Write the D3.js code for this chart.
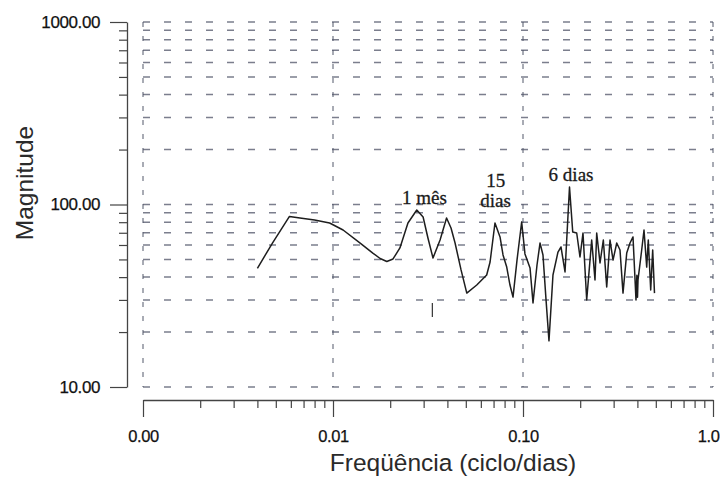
<!DOCTYPE html>
<html>
<head>
<meta charset="utf-8">
<script src="https://cdn.jsdelivr.net/npm/d3@7"></script>
<style>
  html, body { margin: 0; padding: 0; background: #fff; }
  svg { display: block; }
</style>
</head>
<body>
<svg id="chart" width="720" height="482"></svg>
<script>
// Amplitude spectrum of the daily series (log–log)
const freq = [0.0040, 0.0048, 0.0059, 0.0067, 0.0080, 0.0096, 0.0113, 0.0139, 0.0162, 0.0177,
  0.0192, 0.0207, 0.0225, 0.0248, 0.0276, 0.0298, 0.0316, 0.0336, 0.0366, 0.0396,
  0.0418, 0.0439, 0.0472, 0.0506, 0.0571, 0.0644, 0.0671, 0.0712, 0.0757, 0.0785,
  0.0821, 0.0854, 0.0886, 0.0930, 0.0984, 0.1024, 0.1089, 0.1129, 0.1185, 0.1229,
  0.1274, 0.1322, 0.1370, 0.1438, 0.1528, 0.1585, 0.1664, 0.1757, 0.1827, 0.1917,
  0.1995, 0.2069, 0.2164, 0.2299, 0.2393, 0.2443, 0.2543, 0.2647, 0.2758, 0.2871,
  0.2977, 0.3114, 0.3240, 0.3360, 0.3515, 0.3658, 0.3793, 0.3933, 0.3975, 0.4005,
  0.4030, 0.4214, 0.4334, 0.4478, 0.4565, 0.4700, 0.4815, 0.4921];
const magnitude = [44.7, 61.5, 86.0, 84.4, 82.2, 79.2, 72.5, 61.5, 54.2, 50.6,
  48.7, 50.3, 57.8, 79.2, 93.3, 85.4, 65.5, 50.9, 63.9, 84.4,
  74.3, 61.5, 43.8, 32.7, 36.2, 41.1, 48.4, 79.2, 66.4, 52.9,
  45.4, 36.2, 31.1, 49.6, 80.2, 53.6, 44.9, 28.9, 46.6, 61.5,
  52.9, 30.0, 17.9, 41.1, 54.9, 58.5, 42.7, 124.7, 70.7, 69.8,
  51.6, 69.8, 30.0, 63.9, 38.6, 69.8, 47.8, 63.9, 35.3, 63.9,
  49.6, 61.5, 56.3, 32.7, 54.2, 61.5, 66.4, 30.0, 41.0, 31.0,
  38.6, 56.3, 72.5, 45.4, 63.9, 34.0, 56.3, 32.7];

// Axis tick labels (decades)
const xMajorTicks = [0.001, 0.01, 0.1, 1];
const xTickLabels = ["0.00", "0.01", "0.10", "1.0"];
const yMajorTicks = [10, 100, 1000];
const yTickLabels = ["10.00", "100.00", "1000.00"];

// Period annotations: text lines placed at (frequency, magnitude)
const annotations = [
  { f: 0.0303, m: 101, lines: ["1 mês"] },
  { f: 0.0718, m: 124, lines: ["15", "dias"] },
  { f: 0.1790, m: 134, lines: ["6 dias"] }
];
// Short mark at the one‑month frequency
const monthMark = { f: 1 / 30, from: 24.2, to: 28.9 };

const svg = d3.select("#chart");
const x = d3.scaleLog().domain([0.001, 1]).range([143, 713]);
const y = d3.scaleLog().domain([10, 1000]).range([387, 22]);

// every 1..9 × decade value
function logSteps(lo, hi) {
  const out = [];
  for (let d = lo; d < hi; d *= 10) for (let k = 1; k < 10; k++) out.push(+(k * d).toPrecision(3));
  out.push(hi);
  return out;
}
const xAll = logSteps(0.001, 1);
const yAll = logSteps(10, 1000);
const isMajor = (arr, v) => arr.some(t => Math.abs(t - v) / t < 1e-6);

const gridColor = "#4f5468";

// horizontal grid (dashed) at each 1..9 step
svg.append("g").selectAll("line").data(yAll).join("line")
  .attr("x1", x(0.001)).attr("x2", x(1))
  .attr("y1", d => y(d)).attr("y2", d => y(d))
  .attr("stroke", gridColor).attr("stroke-width", 1.5).attr("opacity", 0.75)
  .attr("stroke-dasharray", "7,14");

// vertical grid at decades
svg.append("g").selectAll("line").data(xMajorTicks).join("line")
  .attr("x1", d => x(d)).attr("x2", d => x(d))
  .attr("y1", y(1000)).attr("y2", y(10))
  .attr("stroke", gridColor).attr("stroke-width", 1.3).attr("opacity", 0.75)
  .attr("stroke-dasharray", "5,9");

const tickFont = "'Liberation Sans', Arial, sans-serif";

// Y axis
const yAxis = d3.axisLeft(y).tickValues(yAll).tickSizeInner(9).tickSizeOuter(0).tickPadding(18)
  .tickFormat(d => { const i = yMajorTicks.findIndex(t => Math.abs(t - d) < 1e-6); return i >= 0 ? yTickLabels[i] : ""; });
const gy = svg.append("g").attr("transform", "translate(127,0)").call(yAxis);
gy.select(".domain").attr("stroke", "#444").attr("stroke-width", 1.3);
gy.selectAll(".tick line").attr("stroke", "#444").attr("stroke-width", 1.2)
  .attr("x2", d => isMajor(yMajorTicks, d) ? -17 : -8);
gy.selectAll(".tick text").attr("font-family", tickFont).attr("font-size", 17)
  .attr("fill", "#111").attr("letter-spacing", "-0.4")
  .attr("stroke", "#111").attr("stroke-width", 0.25);

// X axis
const xAxis = d3.axisBottom(x).tickValues(xAll).tickSizeInner(8).tickSizeOuter(0).tickPadding(22)
  .tickFormat(d => { const i = xMajorTicks.findIndex(t => Math.abs(t - d) / t < 1e-6); return i >= 0 ? xTickLabels[i] : ""; });
const gx = svg.append("g").attr("transform", "translate(0,400)").call(xAxis);
gx.select(".domain").attr("stroke", "#444").attr("stroke-width", 1.3);
gx.selectAll(".tick line").attr("stroke", "#444").attr("stroke-width", 1.2)
  .attr("y2", d => isMajor(xMajorTicks, d) ? 17 : 8);
gx.selectAll(".tick text").attr("font-family", tickFont).attr("font-size", 16.5)
  .attr("fill", "#111").attr("letter-spacing", "-0.4")
  .attr("stroke", "#111").attr("stroke-width", 0.25);
// the last label sits against the right edge
gx.selectAll(".tick text").filter(d => Math.abs(d - 1) < 1e-9)
  .attr("text-anchor", "end").attr("x", 6);

// Axis titles
svg.append("text")
  .attr("x", 453).attr("y", 471)
  .attr("text-anchor", "middle")
  .attr("font-family", tickFont).attr("font-size", 24.5).attr("fill", "#2a2a2a")
  .text("Freqüência (ciclo/dias)");
svg.append("text")
  .attr("transform", "translate(33,183) rotate(-90)")
  .attr("text-anchor", "middle")
  .attr("font-family", tickFont).attr("font-size", 24.5).attr("fill", "#2a2a2a")
  .text("Magnitude");

// Spectrum line
const pts = freq.map((f, i) => [f, magnitude[i]]);
svg.append("path")
  .datum(pts)
  .attr("fill", "none").attr("stroke", "#1e1e1e").attr("stroke-width", 1.5)
  .attr("stroke-linejoin", "round")
  .attr("d", d3.line().x(d => x(d[0])).y(d => y(d[1])));

// one‑month marker
svg.append("line")
  .attr("x1", x(monthMark.f)).attr("x2", x(monthMark.f))
  .attr("y1", y(monthMark.from)).attr("y2", y(monthMark.to))
  .attr("stroke", "#333").attr("stroke-width", 1.2);

// Period labels
const serif = "'Liberation Serif', 'Times New Roman', serif";
annotations.forEach(a => {
  const t = svg.append("text")
    .attr("x", x(a.f)).attr("y", y(a.m))
    .attr("text-anchor", "middle")
    .attr("font-family", serif).attr("font-size", 19).attr("fill", "#1a1a1a")
    .attr("stroke", "#1a1a1a").attr("stroke-width", 0.3);
  a.lines.forEach((s, i) => t.append("tspan").attr("x", x(a.f)).attr("dy", i === 0 ? 0 : 20).text(s));
});
</script>
</body>
</html>
